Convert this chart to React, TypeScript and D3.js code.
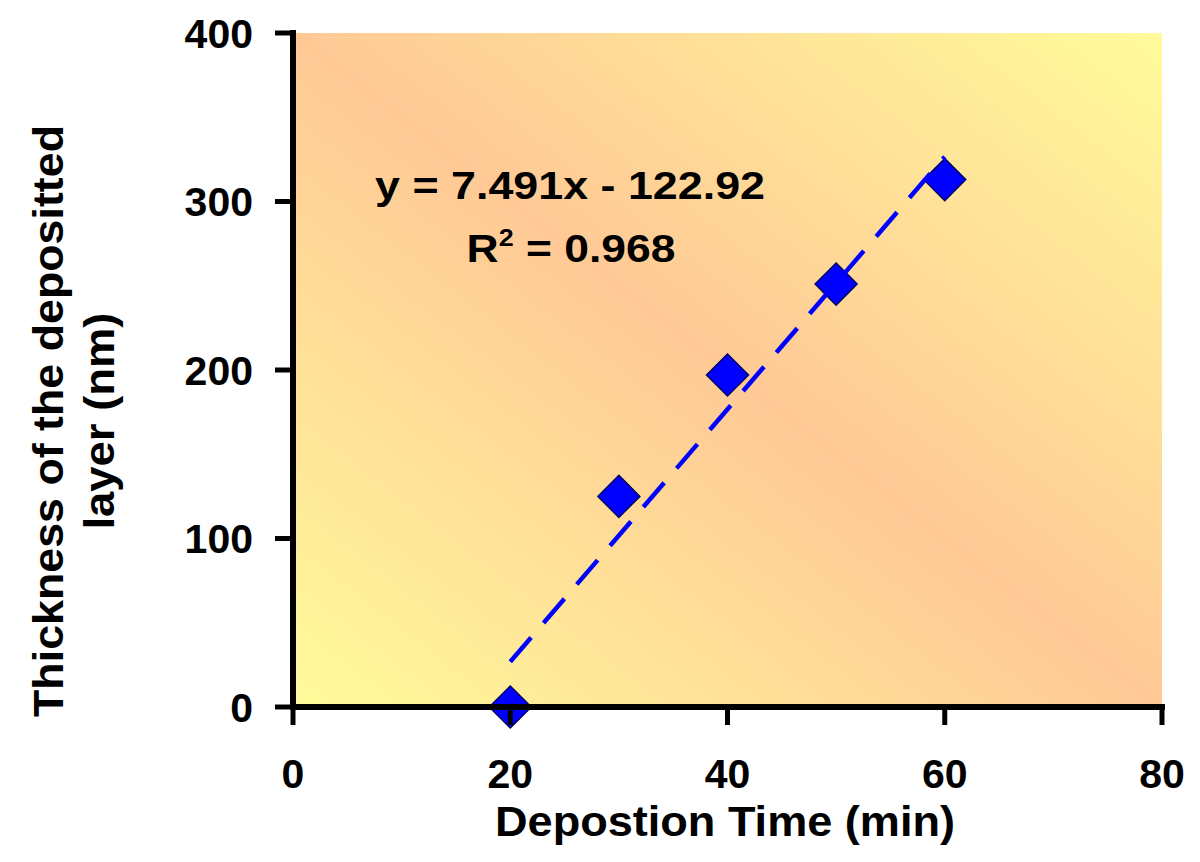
import React from "react";
import * as d3 from "d3";

const times = [20, 30, 40, 50, 60];
const thickness = [0, 125, 197, 251, 313];
const xTicks = [0, 20, 40, 60, 80];
const yTicks = [0, 100, 200, 300, 400];
const slope = 7.491;
const intercept = -122.92;
const eqText = "y = 7.491x - 122.92";
const r2Value = "0.968";

export default function App() {
  const W = 1200, H = 862;
  const left = 293, right = 1162, top = 33, bottom = 707;
  const x = d3.scaleLinear().domain([0, 80]).range([left, right]);
  const y = d3.scaleLinear().domain([0, 400]).range([bottom, top]);
  const font = "'Liberation Sans', Arial, sans-serif";
  const x0 = d3.min(times) as number;
  const x1 = d3.max(times) as number;
  const trend = d3.line<number>().x((d) => x(d)).y((d) => y(slope * d + intercept))([x0, x1]) || "";
  const diamond = (cx: number, cy: number, r: number) =>
    `M${cx},${cy - r}L${cx + r},${cy}L${cx},${cy + r}L${cx - r},${cy}Z`;

  return (
    <svg width={W} height={H} style={{ position: "absolute", left: 0, top: 0, background: "#fff" }} fontFamily={font}>
      <defs>
        <linearGradient id="bg" x1="0" y1="1" x2="1" y2="0">
          <stop offset="0" stopColor="#FFFB9A" />
          <stop offset="0.5" stopColor="#FFC996" />
          <stop offset="1" stopColor="#FFFB9A" />
        </linearGradient>
      </defs>
      <rect x={left} y={top} width={right - left} height={bottom - top} fill="url(#bg)" />

      {thickness.map((v, i) => (
        <path key={i} d={diamond(x(times[i]), y(v), 21)} fill="#0000FF" stroke="#000066" strokeWidth={1.5} />
      ))}
      <path d={trend} fill="none" stroke="#0000FF" strokeWidth={4.5} strokeDasharray="32 19" />

      {/* axes */}
      <line x1={left} y1={top - 3} x2={left} y2={bottom + 3} stroke="#000" strokeWidth={6} />
      <line x1={left - 3} y1={bottom} x2={right + 3} y2={bottom} stroke="#000" strokeWidth={6} />
      {yTicks.map((t) => (
        <g key={"y" + t}>
          <line x1={left - 18} x2={left} y1={y(t)} y2={y(t)} stroke="#000" strokeWidth={5} />
          <text x={253} y={y(t)} dy="0.36em" textAnchor="end" fontSize={41} fontWeight="bold">{t}</text>
        </g>
      ))}
      {xTicks.map((t) => (
        <g key={"x" + t}>
          <line x1={x(t)} x2={x(t)} y1={bottom} y2={bottom + 18} stroke="#000" strokeWidth={5} />
          <text x={x(t)} y={788} textAnchor="middle" fontSize={41} fontWeight="bold">{t}</text>
        </g>
      ))}

      <text x={725} y={836} textAnchor="middle" fontSize={43} fontWeight="bold"
        textLength={460} lengthAdjust="spacingAndGlyphs">Depostion Time (min)</text>
      <g transform={`translate(0,421) rotate(-90)`}>
        <text x={0} y={63} textAnchor="middle" fontSize={43} fontWeight="bold"
          textLength={592} lengthAdjust="spacingAndGlyphs">Thickness of the depositted</text>
        <text x={0} y={114} textAnchor="middle" fontSize={43} fontWeight="bold"
          textLength={217} lengthAdjust="spacingAndGlyphs">layer (nm)</text>
      </g>

      <text x={570} y={199} textAnchor="middle" fontSize={38} fontWeight="bold"
        textLength={390} lengthAdjust="spacingAndGlyphs">{eqText}</text>
      <g transform="translate(571,262) scale(1.17,1)">
        <text x={0} y={0} textAnchor="middle" fontSize={38} fontWeight="bold">
          R<tspan dy={-16} fontSize={23}>2</tspan><tspan dy={16}>{" = " + r2Value}</tspan>
        </text>
      </g>
    </svg>
  );
}
